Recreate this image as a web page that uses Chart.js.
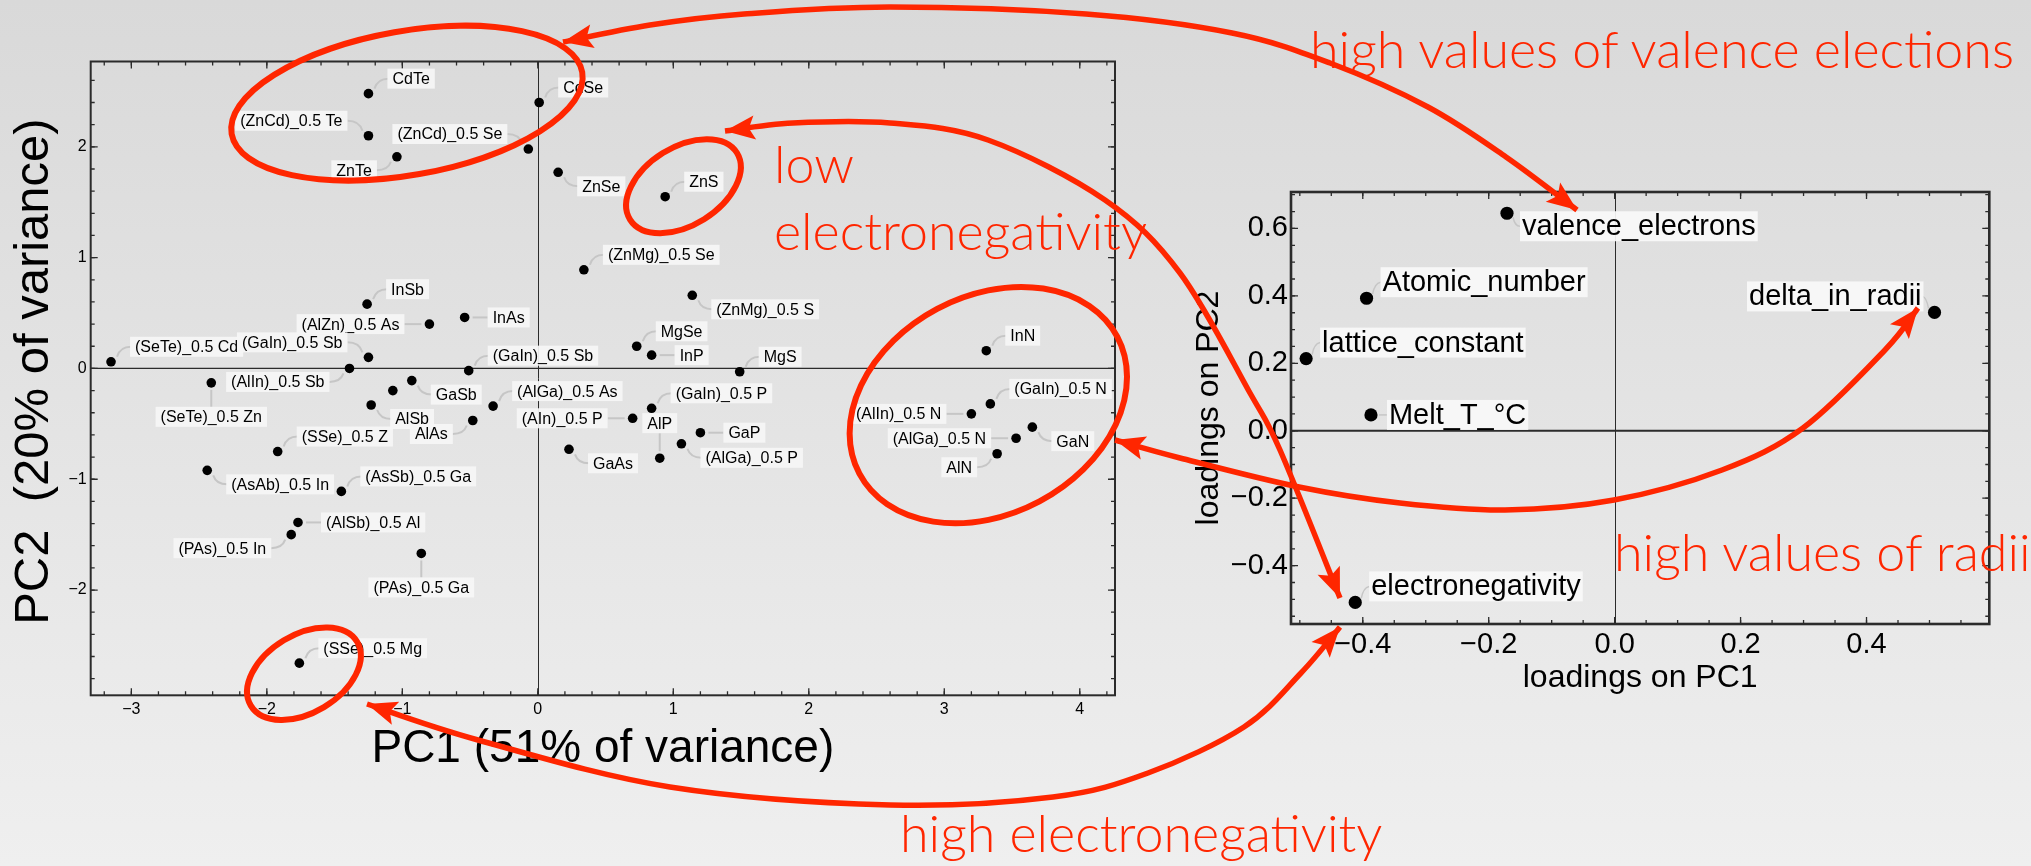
<!DOCTYPE html>
<html>
<head>
<meta charset="utf-8">
<script src="https://cdn.jsdelivr.net/npm/chart.js@4.4.1/dist/chart.umd.min.js"></script>
<style>
  html, body { margin: 0; padding: 0; width: 2031px; height: 866px; overflow: hidden; }
  body { background: linear-gradient(#d9d9d9, #efefef); font-family: 'Liberation Sans', Arial, sans-serif; position: relative; }
  #scoresBox { position: absolute; left: 0; top: 0; width: 1130px; height: 790px; }
  #loadsBox { position: absolute; left: 1180px; top: 140px; width: 830px; height: 560px; }
  #overlay { position: absolute; left: 0; top: 0; pointer-events: none; }
  .note { position: absolute; color: #ff2600; font-family: Lato, 'Open Sans', sans-serif; font-weight: 300;
          font-size: 52px; line-height: 1; white-space: nowrap; }
</style>
</head>
<body>
<div id="scoresBox"><canvas id="scores"></canvas></div>
<div id="loadsBox"><canvas id="loads"></canvas></div>
<canvas id="overlay" width="2031" height="866"></canvas>
<script>
// ── PCA scores (PC1 / PC2) ─────────────────────
var SCORE_NAMES = [
  'CdTe', '(ZnCd)_0.5 Te', 'ZnTe', '(ZnCd)_0.5 Se', 'CdSe', 'ZnSe', 'ZnS',
  '(ZnMg)_0.5 Se', '(ZnMg)_0.5 S', 'InSb', 'InAs', '(AlZn)_0.5 As', '(SeTe)_0.5 Cd',
  '(GaIn)_0.5 Sb', '(AlIn)_0.5 Sb', '(GaIn)_0.5 Sb', '(SeTe)_0.5 Zn', 'MgSe', 'InP', 'MgS',
  'InN', 'GaSb', '', 'AlSb', '(AlGa)_0.5 As', 'AlAs', '(AIn)_0.5 P', '(GaIn)_0.5 P', 'AlP',
  '(AlGa)_0.5 P', 'GaP', 'GaAs', '(AlIn)_0.5 N', '(GaIn)_0.5 N', 'GaN', '(AlGa)_0.5 N', 'AlN',
  '(SSe)_0.5 Z', '(AsAb)_0.5 In', '(AsSb)_0.5 Ga', '(AlSb)_0.5 Al', '(PAs)_0.5 In',
  '(PAs)_0.5 Ga', '(SSe)_0.5 Mg'
];
var SCORE_PC1 = [
  -1.25, -1.25, -1.04, -0.07, 0.01, 0.15, 0.94,
  0.34, 1.14, -1.26, -0.54, -0.80, -3.15,
  -1.25, -1.39, -0.51, -2.41, 0.73, 0.84, 1.49,
  3.31, -0.93, -1.07, -1.23, -0.33, -0.48, 0.70, 0.84, 0.90,
  1.06, 1.20, 0.23, 3.20, 3.34, 3.65, 3.53, 3.39,
  -1.92, -2.44, -1.45, -1.77, -1.82,
  -0.86, -1.76
];
var SCORE_PC2 = [
  2.48, 2.10, 1.91, 1.98, 2.40, 1.77, 1.55,
  0.89, 0.66, 0.58, 0.46, 0.40, 0.06,
  0.10, 0.00, -0.02, -0.13, 0.20, 0.12, -0.03,
  0.16, -0.11, -0.20, -0.33, -0.34, -0.47, -0.45, -0.36, -0.81,
  -0.68, -0.58, -0.73, -0.41, -0.32, -0.53, -0.63, -0.77,
  -0.75, -0.92, -1.11, -1.39, -1.50,
  -1.67, -2.66
];
var SCORE_X_TICKS = [-3, -2, -1, 0, 1, 2, 3, 4];
var SCORE_Y_TICKS = [-2, -1, 0, 1, 2];

// ── PCA loadings ───────────────────────────────
var LOAD_NAMES = ['valence_electrons', 'Atomic_number', 'lattice_constant', 'Melt_T_°C', 'delta_in_radii', 'electronegativity'];
var LOAD_PC1 = [-0.171, -0.394, -0.490, -0.387, 0.508, -0.412];
var LOAD_PC2 = [0.645, 0.393, 0.214, 0.047, 0.351, -0.509];
var LOAD_X_TICKS = [-0.4, -0.2, 0, 0.2, 0.4];
var LOAD_Y_TICKS = [-0.4, -0.2, 0, 0.2, 0.4, 0.6];

// where each callout label sits relative to its dot
var SCORE_SIDE = [
  'ur', 'ul', 'dl', 'ul', 'ur', 'dr', 'ur',
  'ur', 'dr', 'ur', 'r', 'l', 'ur',
  'ul', 'dl', 'ur', 'd', 'ur', 'r', 'ur',
  'ur', 'dr', '', 'dr', 'ur', 'dl', 'l', 'ur', 'u',
  'dr', 'r', 'dr', 'l', 'ur', 'dr', 'l', 'dl',
  'ur', 'dr', 'ur', 'r', 'dl',
  'd', 'ur'
];
var LOAD_SIDE = ['dr', 'ur', 'ur', 'r', 'ul', 'ur'];

var RED = '#ff2600';
var SANS = "'Liberation Sans', Arial, sans-serif";

function minus(s) { return s.replace('-', '\u2212'); }

// callout geometry: text anchor (dx, dy, align) + leader path [sx, sy, cx, cy, ex, ey]
var SCORE_GEOM = {
  ur: { dx: 24, dy: -15, align: 'left',  path: [6, -5, 9, -15, 20, -15] },
  dr: { dx: 24, dy: 14,  align: 'left',  path: [6, 5, 9, 14, 20, 14] },
  ul: { dx: -26, dy: -15, align: 'right', path: [-6, -5, -9, -15, -21, -15] },
  dl: { dx: -25, dy: 13.5, align: 'right', path: [-6, 5, -9, 13.5, -20, 13.5] },
  r:  { dx: 28, dy: 0, align: 'left',  path: [8, 0, 15, 0, 23, 0] },
  l:  { dx: -30, dy: 0, align: 'right', path: [-8, 0, -16, 0, -25, 0] },
  d:  { dx: 0, dy: 34, align: 'center', path: [0, 7, 0, 15, 0, 24] },
  u:  { dx: 0, dy: -35, align: 'center', path: [0, -7, 0, -15, 0, -25] }
};
var LOAD_GEOM = {
  ur: { dx: 16, dy: -16, align: 'left',  path: [6, -4, 8, -15, 14, -16] },
  dr: { dx: 15, dy: 13,  align: 'left',  path: [6, 4, 8, 13, 13, 13] },
  ul: { dx: -13, dy: -16, align: 'right', path: [-6, -4, -8, -15, -12, -16] },
  r:  { dx: 18, dy: 0, align: 'left',  path: [8, 0, 12, 0, 16, 0] }
};

// ── plugins ────────────────────────────────────
var frameTicks = {
  id: 'frameTicks',
  beforeDatasetsDraw: function (chart, args, o) {
    var ctx = chart.ctx, a = chart.chartArea, sx = chart.scales.x, sy = chart.scales.y;
    ctx.save();
    ctx.strokeStyle = o.color;
    var x0 = Math.round(sx.getPixelForValue(0)) + 0.5;
    ctx.lineWidth = o.zeroX;
    ctx.beginPath(); ctx.moveTo(x0, a.top); ctx.lineTo(x0, a.bottom); ctx.stroke();
    var y0 = sy.getPixelForValue(0);
    ctx.lineWidth = o.zeroY;
    ctx.beginPath(); ctx.moveTo(a.left, y0); ctx.lineTo(a.right, y0); ctx.stroke();

    ctx.lineWidth = 1.3;
    function marks(scale, step, len, horiz) {
      var k0 = Math.ceil(scale.min / step - 1e-6), k1 = Math.floor(scale.max / step + 1e-6);
      for (var k = k0; k <= k1; k++) {
        var p = scale.getPixelForValue(k * step);
        ctx.beginPath();
        if (horiz) {
          ctx.moveTo(p, a.bottom); ctx.lineTo(p, a.bottom - len);
          ctx.moveTo(p, a.top); ctx.lineTo(p, a.top + len);
        } else {
          ctx.moveTo(a.left, p); ctx.lineTo(a.left + len, p);
          ctx.moveTo(a.right, p); ctx.lineTo(a.right - len, p);
        }
        ctx.stroke();
      }
    }
    marks(sx, o.minorX, 4, true);  marks(sx, o.majorX, 7, true);
    marks(sy, o.minorY, 4, false); marks(sy, o.majorY, 7, false);
    ctx.lineWidth = o.frame;
    ctx.strokeRect(a.left, a.top, a.right - a.left, a.bottom - a.top);
    ctx.restore();
  }
};

var callouts = {
  id: 'callouts',
  afterDatasetsDraw: function (chart, args, o) {
    var ctx = chart.ctx, pts = chart.getDatasetMeta(0).data;
    ctx.save();
    ctx.font = o.size + 'px ' + SANS;
    ctx.textBaseline = 'middle';
    ctx.textAlign = 'left';
    pts.forEach(function (el, i) {
      var text = o.names[i];
      if (!text) return;
      var g = o.geom[o.sides[i]], px = el.x, py = el.y, q = g.path;
      var w = ctx.measureText(text).width, ty = py + g.dy, tx;
      if (g.align === 'left') tx = px + g.dx;
      else if (g.align === 'right') tx = px + g.dx - w;
      else tx = px - w / 2;
      ctx.strokeStyle = o.lineColor; ctx.lineWidth = o.lineWidth;
      ctx.beginPath();
      ctx.moveTo(px + q[0], py + q[1]);
      ctx.quadraticCurveTo(px + q[2], py + q[3], px + q[4], py + q[5]);
      ctx.stroke();
      ctx.fillStyle = o.boxColor;
      ctx.fillRect(tx - o.padX, ty - o.boxH / 2, w + 2 * o.padX, o.boxH);
      ctx.fillStyle = '#000';
      ctx.fillText(text, tx, ty + 1);
    });
    ctx.restore();
  }
};

function pointsOf(xs, ys) { return xs.map(function (x, i) { return { x: x, y: ys[i] }; }); }
function setTicks(list) { return function (s) { s.ticks = list.map(function (v) { return { value: v }; }); }; }

// ── scores chart ───────────────────────────────
var scoresChart = new Chart(document.getElementById('scores'), {
  type: 'scatter',
  data: { datasets: [{ data: pointsOf(SCORE_PC1, SCORE_PC2), pointRadius: 4.8, pointBackgroundColor: '#000', pointBorderWidth: 0 }] },
  options: {
    responsive: true, maintainAspectRatio: false, animation: false, events: [],
    layout: { padding: { top: 61.5, right: 15, left: 0, bottom: 0 } },
    plugins: {
      legend: { display: false }, tooltip: { enabled: false },
      frameTicks: { color: '#2b2b2b', frame: 2, zeroX: 1, zeroY: 1.3, majorX: 1, minorX: 0.2, majorY: 1, minorY: 0.2 },
      callouts: { names: SCORE_NAMES, sides: SCORE_SIDE, geom: SCORE_GEOM, size: 16, padX: 5, boxH: 20,
                  boxColor: 'rgba(246,246,246,0.92)', lineColor: '#c6c6c6', lineWidth: 2 }
    },
    scales: {
      x: {
        type: 'linear', min: -3.30, max: 4.26,
        grid: { display: false, drawTicks: false }, border: { display: false },
        afterFit: function (s) { s.height = 94.7; },
        afterBuildTicks: setTicks(SCORE_X_TICKS),
        ticks: { callback: function (v) { return minus(String(v)); }, color: '#000', padding: 5,
                 font: { size: 16, family: SANS }, maxRotation: 0, autoSkip: false },
        title: { display: true, text: 'PC1 (51% of variance)', color: '#000',
                 font: { size: 46, family: SANS, lineHeight: 1 }, padding: { top: 0, bottom: 18 } }
      },
      y: {
        type: 'linear', min: -2.95, max: 2.77,
        grid: { display: false, drawTicks: false }, border: { display: false },
        afterFit: function (s) { s.width = 90.7; },
        afterBuildTicks: setTicks(SCORE_Y_TICKS),
        ticks: { callback: function (v) { return minus(String(v)); }, color: '#000', padding: 4,
                 font: { size: 16, family: SANS }, autoSkip: false },
        title: { display: true, text: ' PC2  (20% of variance)', color: '#000',
                 font: { size: 49, family: SANS, lineHeight: 1 }, padding: { top: 9.5, bottom: 0 } }
      }
    }
  },
  plugins: [frameTicks, callouts]
});

// ── loadings chart ─────────────────────────────
var loadsChart = new Chart(document.getElementById('loads'), {
  type: 'scatter',
  data: { datasets: [{ data: pointsOf(LOAD_PC1, LOAD_PC2), pointRadius: 6.6, pointBackgroundColor: '#000', pointBorderWidth: 0 }] },
  options: {
    responsive: true, maintainAspectRatio: false, animation: false, events: [],
    layout: { padding: { top: 52, right: 20.7, left: 0, bottom: 0 } },
    plugins: {
      legend: { display: false }, tooltip: { enabled: false },
      frameTicks: { color: '#2b2b2b', frame: 2.6, zeroX: 1, zeroY: 2, majorX: 0.2, minorX: 0.05, majorY: 0.2, minorY: 0.05 },
      callouts: { names: LOAD_NAMES, sides: LOAD_SIDE, geom: LOAD_GEOM, size: 29, padX: 2, boxH: 30,
                  boxColor: 'rgba(248,248,248,0.92)', lineColor: '#c6c6c6', lineWidth: 1.5 }
    },
    scales: {
      x: {
        type: 'linear', min: -0.514, max: 0.595,
        grid: { display: false, drawTicks: false }, border: { display: false },
        afterFit: function (s) { s.height = 76; },
        afterBuildTicks: setTicks(LOAD_X_TICKS),
        ticks: { callback: function (v) { return minus(v.toFixed(1)); }, color: '#000', padding: 4,
                 font: { size: 29, family: SANS }, maxRotation: 0, autoSkip: false },
        title: { display: true, text: 'loadings on PC1', color: '#000',
                 font: { size: 32, family: SANS, lineHeight: 1 }, padding: { top: 0, bottom: 6 } }
      },
      y: {
        type: 'linear', min: -0.573, max: 0.708,
        grid: { display: false, drawTicks: false }, border: { display: false },
        afterFit: function (s) { s.width = 111; },
        afterBuildTicks: setTicks(LOAD_Y_TICKS),
        ticks: { callback: function (v) { return minus(v.toFixed(1)); }, color: '#000', padding: 3,
                 font: { size: 29, family: SANS }, autoSkip: false },
        title: { display: true, text: 'loadings on PC2', color: '#000',
                 font: { size: 32, family: SANS, lineHeight: 1 }, padding: { top: 13, bottom: 0 } }
      }
    }
  },
  plugins: [frameTicks, callouts]
});

// ── red annotations ────────────────────────────
// ellipses: centre in score units, radii/rotation in px
var ELLIPSES = [
  { x: -0.966, y: 2.394, rx: 178, ry: 72, rot: -10 },
  { x: 1.075, y: 1.645, rx: 63, ry: 39, rot: -32 },
  { x: 3.325, y: -0.331, rx: 146, ry: 109, rot: -28 },
  { x: -1.726, y: -2.755, rx: 62, ry: 39, rot: -31 }
];
// double-headed arrows, page px
var ARROWS = [
  [[563, 42], [650, 25], [744, 14], [890, 7], [1086, 14], [1232, 33], [1330, 63], [1428, 107], [1506, 157], [1577, 210]],
  [[725, 131], [793, 123], [890, 123], [988, 140], [1105, 200], [1180, 273], [1250, 393], [1280, 450], [1340, 598]],
  [[1115, 440], [1180, 458], [1299, 487], [1400, 503], [1505, 510], [1614, 500], [1722, 470], [1803, 428], [1885, 350], [1918, 308]],
  [[367, 704], [478, 740], [670, 787], [890, 805], [1053, 797], [1148, 773], [1244, 727], [1301, 673], [1340, 627]]
];
var NOTES = [
  { text: 'high values of valence elections', x: 1310, base: 68 },
  { text: 'low', x: 774, base: 183 },
  { text: 'electronegativity', x: 774, base: 250 },
  { text: 'high values of radii', x: 1614, base: 571 },
  { text: 'high electronegativity', x: 900, base: 852 }
];

function smooth(ctx, p) {
  ctx.beginPath();
  ctx.moveTo(p[0][0], p[0][1]);
  for (var i = 0; i < p.length - 1; i++) {
    var p0 = p[Math.max(i - 1, 0)], p1 = p[i], p2 = p[i + 1], p3 = p[Math.min(i + 2, p.length - 1)];
    ctx.bezierCurveTo(p1[0] + (p2[0] - p0[0]) / 6, p1[1] + (p2[1] - p0[1]) / 6,
                      p2[0] - (p3[0] - p1[0]) / 6, p2[1] - (p3[1] - p1[1]) / 6, p2[0], p2[1]);
  }
  ctx.stroke();
}
function head(ctx, from, tip) {
  var dx = tip[0] - from[0], dy = tip[1] - from[1], d = Math.sqrt(dx * dx + dy * dy);
  var ux = dx / d, uy = dy / d, L = 30, W = 12;
  ctx.beginPath();
  ctx.moveTo(tip[0], tip[1]);
  ctx.lineTo(tip[0] - ux * L - uy * W, tip[1] - uy * L + ux * W);
  ctx.lineTo(tip[0] - ux * L * 0.8, tip[1] - uy * L * 0.8);
  ctx.lineTo(tip[0] - ux * L + uy * W, tip[1] - uy * L - ux * W);
  ctx.closePath();
  ctx.fill();
}

function drawOverlay() {
  var ctx = document.getElementById('overlay').getContext('2d');
  var box = document.getElementById('scoresBox');
  ctx.strokeStyle = RED; ctx.fillStyle = RED;
  ctx.lineWidth = 6;
  ELLIPSES.forEach(function (e) {
    var cx = box.offsetLeft + scoresChart.scales.x.getPixelForValue(e.x);
    var cy = box.offsetTop + scoresChart.scales.y.getPixelForValue(e.y);
    ctx.beginPath();
    ctx.ellipse(cx, cy, e.rx, e.ry, e.rot * Math.PI / 180, 0, 2 * Math.PI);
    ctx.stroke();
  });
  ctx.lineWidth = 5.5;
  ARROWS.forEach(function (p) {
    var n = p.length;
    smooth(ctx, p);
    head(ctx, p[1], p[0]);
    head(ctx, p[n - 2], p[n - 1]);
  });
  NOTES.forEach(function (t) {
    var d = document.createElement('div');
    d.className = 'note';
    d.textContent = t.text;
    var probe = document.createElement('span');
    probe.style.display = 'inline-block'; probe.style.width = '0'; probe.style.height = '0';
    d.appendChild(probe);
    document.body.appendChild(d);
    d.style.left = t.x + 'px';
    d.style.top = (t.base - probe.offsetTop) + 'px';
  });
}
drawOverlay();
</script>
</body>
</html>
